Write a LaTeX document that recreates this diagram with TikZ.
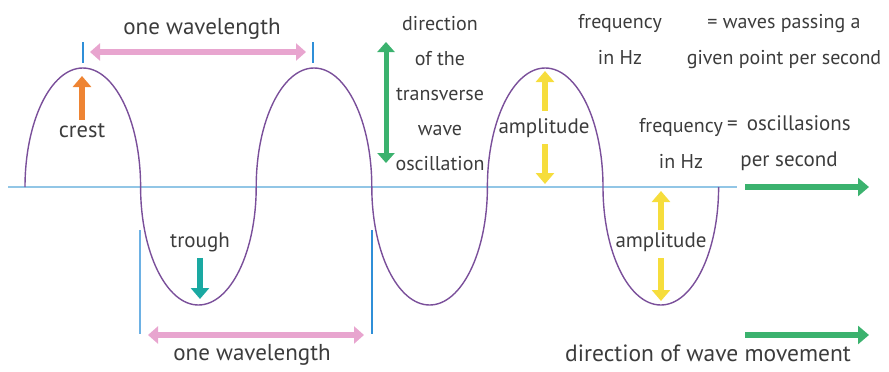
\documentclass[tikz,border=0pt]{standalone}
\usepackage{fontspec}
\setmainfont{PT Sans}
\usetikzlibrary{arrows.meta}
\definecolor{wavepurple}{HTML}{7A4F9A}
\definecolor{axisblue}{HTML}{92C6E6}
\definecolor{tickblue}{HTML}{2F8FD8}
\definecolor{lambdapink}{HTML}{E8A5CF}
\definecolor{crestorange}{HTML}{EE8433}
\definecolor{troughteal}{HTML}{1AA9A2}
\definecolor{movegreen}{HTML}{3BB26E}
\definecolor{ampyellow}{HTML}{F6DD3C}
\definecolor{txtgray}{HTML}{3C3C3C}

\begin{document}
\begin{tikzpicture}[x=1pt,y=-1pt,
  lbl/.style={text=txtgray,align=center,inner sep=0pt,font=\fontsize{21}{36}\selectfont},
  biglbl/.style={lbl,font=\fontsize{23.5}{36}\selectfont},
  smalllbl/.style={lbl,font=\fontsize{20}{36}\selectfont},
  fat/.style={line width=6.5pt,-{Triangle[length=11pt,width=18pt]}},
  both/.style={line width=6pt,{Triangle[length=10pt,width=17pt]}-{Triangle[length=10pt,width=17pt]}},
  tick/.style={tickblue,line width=1.5pt}
]
  \useasboundingbox (0,0) rectangle (889,372);

  % axis and wave
  \coordinate (axl) at (8,187);
  \coordinate (axr) at (737,187);
  \draw[axisblue,line width=2.4pt] (axl) -- (axr);
  \draw[wavepurple,line width=1.4pt] (25,187)
    \foreach \k in {1,2,3} {
      arc[start angle=180,end angle=0,x radius=57.8pt,y radius=119pt]
      arc[start angle=180,end angle=360,x radius=57.8pt,y radius=118pt]
    };

  % wavelength crest to crest
  \coordinate (c1t) at (83,42);  \coordinate (c1b) at (83,63);
  \coordinate (c2t) at (313,42); \coordinate (c2b) at (313,63);
  \draw[tick] (c1t) -- (c1b);
  \draw[tick] (c2t) -- (c2b);
  \coordinate (la) at (90,52);
  \coordinate (lb) at (306,52);
  \draw[both,lambdapink] (la) -- (lb);
  \node[biglbl,font=\fontsize{23}{36}\selectfont] (lamtop) at (202,29) {one wavelength};

  % crest
  \node[lbl,font=\fontsize{22.5}{36}\selectfont] (crest) at (82,131) {crest};
  \coordinate (crestpt) at (82,76);
  \draw[fat,crestorange] (crest.north) ++(0,-4) -- (crestpt);

  % trough
  \node[lbl] (trough) at (200,242) {trough};
  \coordinate (troughpt) at (200,299);
  \draw[fat,troughteal] (trough.south) ++(0,6) -- (troughpt);

  % wavelength zero to zero
  \coordinate (z1t) at (140,230); \coordinate (z1b) at (140,334);
  \coordinate (z2t) at (372,230); \coordinate (z2b) at (372,334);
  \draw[tick,line width=1.2pt,tickblue!70] (z1t) -- (z1b);
  \draw[tick,line width=1.3pt] (z2t) -- (z2b);
  \coordinate (lc) at (148,335);
  \coordinate (ld) at (364,335);
  \draw[both,lambdapink] (lc) -- (ld);
  \node[biglbl,font=\fontsize{23}{36}\selectfont] (lambot) at (252,355) {one wavelength};

  % oscillation direction
  \coordinate (osct) at (386,42);
  \coordinate (oscb) at (386,163);
  \draw[both,movegreen,line width=5pt] (osct) -- (oscb);
  \node[smalllbl,font=\fontsize{20}{35}\selectfont] (osc) at (440,94) {direction\\of the\\transverse\\wave\\oscillation};

  % amplitudes
  \node[lbl] (amp1) at (544,128) {amplitude};
  \coordinate (a1t) at (545,71);
  \coordinate (a1b) at (545,184);
  \draw[fat,ampyellow] (545,111) -- (a1t);
  \draw[fat,ampyellow] (545,144) -- (a1b);
  \node[lbl] (amp2) at (661,242) {amplitude};
  \coordinate (a2t) at (661,191);
  \coordinate (a2b) at (661,301);
  \draw[fat,ampyellow] (661,230) -- (a2t);
  \draw[fat,ampyellow] (661,258) -- (a2b);

  % frequency
  \node[smalllbl] (freq1) at (620,39) {frequency\\in Hz};
  \node[smalllbl] (freq1def) at (784,42) {= waves passing a\\given point per second};
  \node[smalllbl] (freq2) at (681,143) {frequency\\in Hz};
  \node[lbl] (freq2def) at (789,143) {=\ \,oscillasions\\per second};

  % wave movement
  \coordinate (m1a) at (745,187); \coordinate (m1b) at (869,187);
  \coordinate (m2a) at (745,335); \coordinate (m2b) at (869,335);
  \draw[fat,movegreen] (m1a) -- (m1b);
  \draw[fat,movegreen] (m2a) -- (m2b);
  \node[biglbl] (move) at (708,353) {direction of wave movement};
\end{tikzpicture}
\end{document}
